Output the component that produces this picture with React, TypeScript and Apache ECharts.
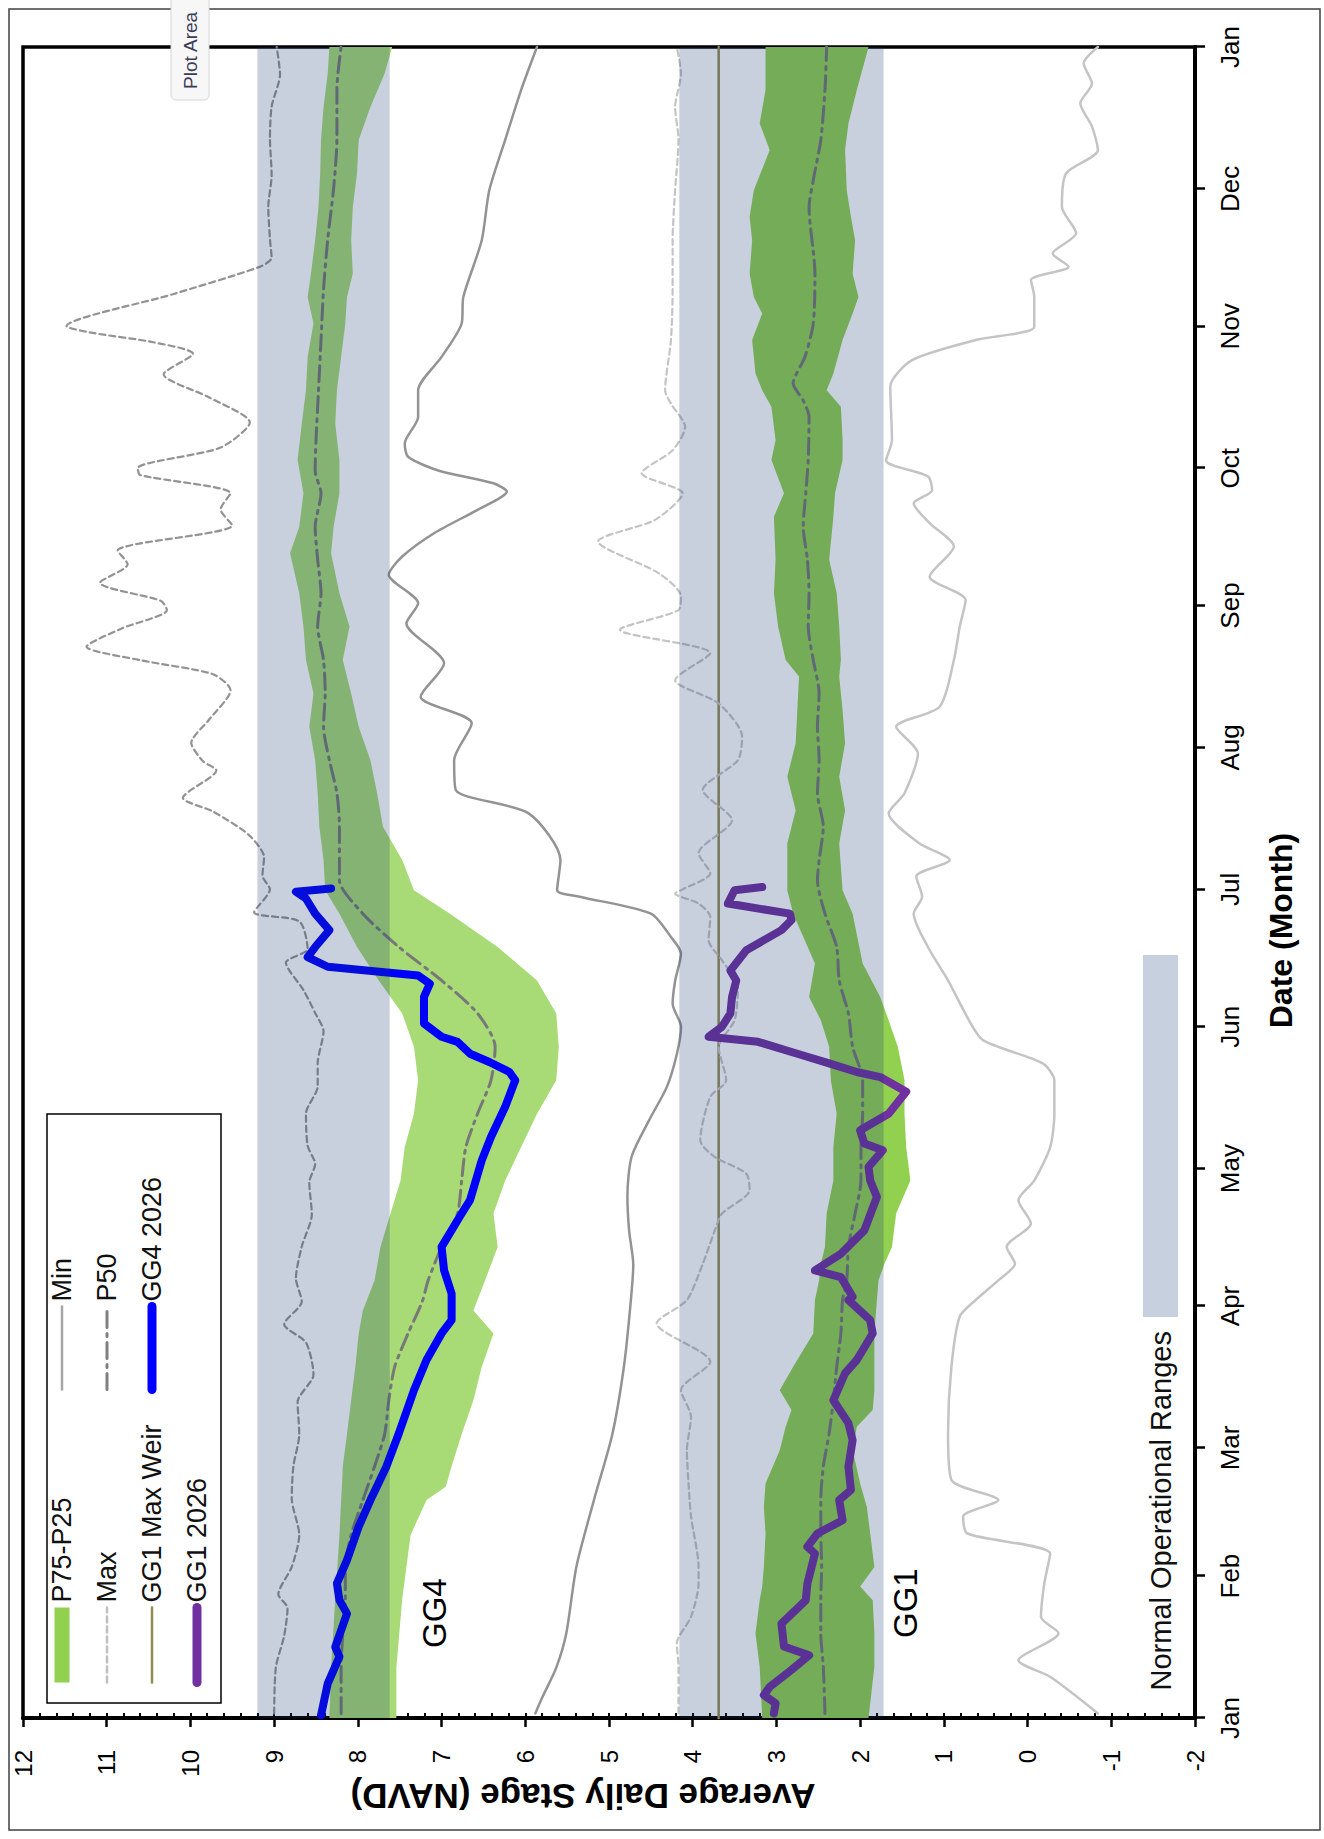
import React, { useEffect, useRef } from 'react';
import * as echarts from 'echarts';

// ---------- axis data ----------
const monthStarts = [0, 31, 59, 90, 120, 151, 181, 212, 243, 273, 304, 334, 365];
const monthLabels = ['Jan', 'Feb', 'Mar', 'Apr', 'May', 'Jun', 'Jul', 'Aug', 'Sep', 'Oct', 'Nov', 'Dec', 'Jan'];
const stageMin = -2;
const stageMax = 12;

// ---------- operational ranges & weir ----------
const gg4OperationalRange = [7.62, 9.2];
const gg1OperationalRange = [1.72, 4.16];
const gg1MaxWeir = 3.69;

// ---------- GG4 statistics: [day, P25, P75] ----------
const gg4Band: [number, number, number][] = [
  [0, 7.54, 8.34], [11, 7.54, 8.32], [26, 7.47, 8.27], [40, 7.37, 8.22], [47.6, 7.18, 8.2], [50.5, 6.95, 8.19],
  [55, 6.88, 8.18], [62, 6.76, 8.13], [69.4, 6.62, 8.08], [76.7, 6.52, 8.03], [84, 6.38, 7.99], [89, 6.62, 7.94],
  [95.6, 6.48, 7.8], [102.9, 6.33, 7.73], [110.2, 6.38, 7.61], [117.4, 6.24, 7.49], [124.7, 6.05, 7.44],
  [132, 5.86, 7.33], [139.3, 5.63, 7.28], [146.6, 5.6, 7.33], [153.9, 5.63, 7.47], [161.1, 5.86, 7.75],
  [168.4, 6.33, 8.01], [175.7, 6.9, 8.22], [180.8, 7.33, 8.39], [187.4, 7.47, 8.41], [194.7, 7.7, 8.46],
  [202, 7.77, 8.48], [209.2, 7.85, 8.51], [216.5, 7.99, 8.58], [223.8, 8.08, 8.53], [231.1, 8.18, 8.62],
  [238.4, 8.1, 8.65], [245.7, 8.22, 8.7], [254.4, 8.32, 8.81], [260.2, 8.29, 8.7], [267.5, 8.22, 8.65],
  [274.8, 8.22, 8.72], [282.7, 8.27, 8.67], [290, 8.25, 8.62], [297.3, 8.2, 8.6], [304.6, 8.15, 8.53],
  [310.4, 8.13, 8.6], [315.5, 8.06, 8.56], [322.8, 8.08, 8.51], [330.1, 8.06, 8.47], [337.4, 8.01, 8.45],
  [344.7, 7.99, 8.44], [351.9, 7.85, 8.41], [359.2, 7.68, 8.36], [365, 7.59, 8.34],
];

const gg4P50: [number, number][] = [
  [1, 8.2], [11, 8.2], [18.5, 8.18], [26, 8.15], [33, 8.15], [40, 8.08], [47.6, 7.94], [55, 7.8], [62, 7.68],
  [69.4, 7.63], [76.7, 7.56], [84, 7.4], [91, 7.23], [95.6, 7.16], [102.9, 7.0], [110.2, 6.81], [117.4, 6.76],
  [124.7, 6.71], [132, 6.57], [139.3, 6.41], [146.6, 6.36], [153.9, 6.57], [161.1, 7.0], [168.4, 7.51],
  [175.7, 7.94], [183, 8.22], [187.4, 8.22], [194.7, 8.22], [202, 8.25], [209.2, 8.34], [216.5, 8.41],
  [223.8, 8.39], [231.1, 8.41], [238.4, 8.48], [245.7, 8.44], [253, 8.48], [260.2, 8.51], [267.5, 8.44],
  [272.5, 8.51], [279, 8.5], [290, 8.47], [301, 8.44], [312, 8.41], [323, 8.36], [334, 8.29], [345, 8.25],
  [356, 8.25], [365, 8.2],
];

const gg4Max: [number, number][] = [
  [1, 9.0], [11, 8.98], [18, 8.88], [24, 8.84], [27, 8.95], [33, 8.79], [40, 8.7], [48, 8.79], [55, 8.77],
  [62, 8.7], [69, 8.72], [75, 8.53], [82, 8.62], [86, 8.88], [91, 8.67], [96, 8.74], [103, 8.67], [110, 8.55],
  [117, 8.58], [121, 8.51], [125, 8.6], [132, 8.62], [138, 8.48], [143, 8.48], [150, 8.41], [154, 8.51],
  [159, 8.65], [165, 8.86], [168, 8.6], [174, 8.7], [176, 9.24], [181, 9.05], [184, 9.14], [188, 9.12],
  [193, 9.31], [198, 9.73], [201, 10.09], [207, 9.69], [209, 9.85], [213, 9.99], [218, 9.78], [224.5, 9.52],
  [228, 9.73], [231, 10.58], [234, 11.24], [238, 10.82], [242, 10.28], [244, 10.35], [248, 11.08],
  [252, 10.75], [255, 10.87], [260.5, 9.5], [264, 9.64], [267.5, 9.52], [271.5, 10.6], [273, 10.63],
  [277.5, 9.64], [283, 9.29], [288.5, 9.78], [293.5, 10.32], [298, 9.97], [300.5, 10.44], [302.5, 11.15],
  [304, 11.48], [311, 10.21], [317, 9.17], [319, 9.03], [323, 9.05], [330, 9.07], [337, 9.03], [345, 9.05],
  [352, 9.03], [359, 8.93], [365, 8.97],
];

const gg4Min: [number, number][] = [
  [1, 5.88], [4, 5.81], [11, 5.63], [18.5, 5.51], [33, 5.39], [47.6, 5.18], [62, 4.96], [77, 4.82], [91, 4.74],
  [99, 4.71], [106.5, 4.76], [114, 4.78], [122.6, 4.73], [130.6, 4.52], [137.8, 4.31], [145, 4.19], [151, 4.14],
  [156, 4.24], [161, 4.21], [167, 4.14], [170.6, 4.26], [175.7, 4.5], [179.4, 5.35], [180.8, 5.62],
  [187.4, 5.58], [197.6, 5.96], [202.7, 6.83], [209.2, 6.85], [217.3, 6.64], [223.1, 7.25], [230.4, 6.97],
  [239.1, 7.42], [243.5, 7.28], [249.7, 7.63], [253.7, 7.47], [258.8, 7.09], [263.9, 6.57], [267.9, 6.22],
  [269.7, 6.38], [272.5, 7.04], [275.5, 7.4], [278.4, 7.44], [284.2, 7.28], [290, 7.28], [297.3, 7.0],
  [304.6, 6.76], [310.4, 6.74], [322.8, 6.52], [333.7, 6.43], [344.7, 6.24], [355.6, 6.05], [365, 5.86],
];

const gg4Stage2026: [number, number][] = [
  [0.6, 8.44], [7.5, 8.36], [13.4, 8.22], [15.5, 8.27], [22.8, 8.13], [25.7, 8.22], [29.4, 8.25], [34.5, 8.13],
  [41.8, 7.99], [47.6, 7.85], [54.9, 7.66], [62.2, 7.51], [71.6, 7.33], [78.2, 7.18], [84, 7.0], [86.9, 6.88],
  [92.7, 6.88], [97.8, 6.97], [102.9, 7.0], [110.2, 6.76], [113.1, 6.66], [121.8, 6.52], [126.9, 6.41],
  [133.5, 6.24], [139.3, 6.12], [141.1, 6.19], [143.3, 6.43], [145.1, 6.66], [147.7, 6.81], [148.8, 7.0],
  [151.7, 7.21], [157.5, 7.21], [160.4, 7.14], [162.2, 7.28], [164.1, 8.36], [166.2, 8.6], [168.4, 8.51],
  [172.1, 8.34], [175.7, 8.51], [179, 8.62], [180.5, 8.74], [181.2, 8.32],
];

// ---------- GG1 statistics ----------
const gg1Band: [number, number, number][] = [
  [0, 1.9, 3.17], [11.2, 1.83, 3.2], [18.5, 1.83, 3.25], [25.7, 1.85, 3.2], [28.7, 2.0, 3.17], [33, 1.83, 3.15],
  [40.3, 1.88, 3.13], [46.1, 1.92, 3.15], [51.2, 2.0, 3.13], [58.5, 2.09, 2.96], [63.6, 2.04, 2.89],
  [67.3, 1.85, 2.82], [71.6, 1.83, 2.96], [76.7, 1.83, 2.8], [84, 1.83, 2.56], [91.3, 1.8, 2.54],
  [95.6, 1.78, 2.49], [99.2, 1.71, 2.47], [102.9, 1.62, 2.42], [110.2, 1.57, 2.4], [117.4, 1.4, 2.32],
  [124.7, 1.45, 2.32], [132, 1.47, 2.28], [139.3, 1.47, 2.35], [146.6, 1.55, 2.37], [152.4, 1.66, 2.47],
  [157.5, 1.76, 2.61], [164.8, 1.97, 2.54], [175.7, 2.09, 2.8], [180.8, 2.21, 2.87], [191, 2.25, 2.87],
  [198.3, 2.18, 2.77], [205.6, 2.25, 2.87], [212.9, 2.18, 2.77], [220.2, 2.21, 2.75], [227.5, 2.25, 2.73],
  [231.1, 2.23, 2.89], [238.4, 2.25, 2.98], [245.7, 2.28, 3.03], [253, 2.37, 3.01], [262.4, 2.32, 3.03],
  [267.5, 2.3, 2.91], [274.8, 2.21, 3.06], [279.1, 2.21, 3.01], [286.4, 2.23, 3.06], [290, 2.4, 3.17],
  [293.7, 2.32, 3.25], [301, 2.21, 3.29], [306.8, 2.09, 3.17], [310.4, 2.02, 3.27], [315.5, 2.09, 3.32],
  [322.8, 2.06, 3.29], [327.9, 2.11, 3.32], [333.7, 2.16, 3.27], [342.5, 2.18, 3.08], [348.3, 2.14, 3.2],
  [355.6, 2.04, 3.13], [365, 1.9, 3.13],
];

const gg1P50: [number, number][] = [
  [1, 2.42], [11.2, 2.44], [18.5, 2.47], [25.7, 2.47], [33, 2.46], [40.3, 2.47], [47.6, 2.47], [54.9, 2.44],
  [62.2, 2.37], [69.4, 2.32], [76.7, 2.28], [84, 2.23], [91.3, 2.21], [95.6, 2.16], [102.9, 2.14], [110.2, 2.06],
  [117.4, 1.99], [124.7, 1.99], [132, 1.97], [139.3, 1.97], [146.6, 2.09], [153.9, 2.14], [161.1, 2.25],
  [168.4, 2.28], [175.7, 2.42], [183, 2.51], [187.4, 2.49], [194.7, 2.44], [202, 2.51], [209.2, 2.49],
  [216.5, 2.51], [223.8, 2.49], [231.1, 2.56], [238.4, 2.62], [245.7, 2.61], [253, 2.63], [260.2, 2.68],
  [267.5, 2.65], [274.8, 2.62], [284.2, 2.61], [287.8, 2.68], [291.5, 2.8], [297.3, 2.66], [304.6, 2.56],
  [315.5, 2.54], [330, 2.61], [335.9, 2.56], [344.7, 2.47], [355.6, 2.42], [365, 2.4],
];

const gg1Max: [number, number][] = [
  [1, 4.17], [11.2, 4.17], [16.3, 4.19], [22.1, 4.02], [29.4, 3.93], [33, 3.93], [44, 4.02], [51.2, 4.05],
  [58.5, 4.07], [65.8, 4.02], [71.6, 4.14], [77.8, 3.79], [86.2, 4.43], [91.3, 4.07], [99.2, 3.88],
  [107.3, 3.72], [110.2, 3.65], [115.3, 3.32], [118.9, 3.36], [122.6, 3.74], [126.2, 3.91], [135.7, 3.79],
  [139.3, 3.6], [146.6, 3.69], [152.4, 3.5], [159.7, 3.46], [165.5, 3.65], [169.9, 3.81], [175, 3.79],
  [177.9, 3.93], [180.1, 4.21], [181, 4.12], [184.5, 3.79], [188.9, 3.93], [196.1, 3.53], [202.7, 3.88],
  [209.2, 3.46], [214.4, 3.41], [221.6, 3.69], [226.7, 4.21], [232.6, 3.79], [237.7, 4.87], [242, 4.17],
  [245, 4.14], [250, 4.4], [257, 5.13], [261.7, 4.45], [267.5, 4.12], [271.9, 4.61], [276.9, 4.24],
  [282, 4.09], [287.1, 4.26], [290, 4.33], [300.9, 4.26], [311.9, 4.24], [322.8, 4.24], [333.7, 4.21],
  [344.7, 4.17], [351.9, 4.21], [359.2, 4.14], [365, 4.19],
];

const gg1Min: [number, number][] = [
  [1, -0.84], [9, -0.27], [12.6, 0.11], [18.5, -0.37], [22.1, -0.16], [29.4, -0.2], [35.9, -0.27], [40.3, 0.72],
  [44, 0.77], [47.6, 0.35], [52, 0.91], [62.2, 0.95], [76.7, 0.91], [87.7, 0.81], [91.3, 0.62], [95.6, 0.35],
  [99.2, 0.15], [102.9, 0.25], [108, -0.04], [113.1, 0.11], [117.4, -0.08], [124.7, -0.27], [132, -0.32],
  [139.3, -0.32], [143, -0.18], [148, 0.53], [152.4, 0.7], [161.1, 0.95], [168.4, 1.19], [175.7, 1.36],
  [179.4, 1.26], [183.8, 1.33], [187.4, 0.93], [191, 1.29], [197.6, 1.66], [202, 1.47], [210.7, 1.31],
  [216.5, 1.57], [220.9, 1.05], [231.1, 0.88], [238.4, 0.81], [244.2, 0.74], [249.3, 1.17], [255.9, 0.88],
  [261, 1.17], [265.3, 1.36], [268.2, 1.14], [271.2, 1.19], [274.7, 1.69], [279.1, 1.62], [290.8, 1.64],
  [296.6, 1.38], [301, 0.62], [303.9, -0.08], [310.4, -0.08], [314.1, -0.04], [317, -0.49], [319.9, -0.3],
  [324.3, -0.58], [330.1, -0.41], [337.4, -0.46], [342.5, -0.84], [347.6, -0.77], [352.7, -0.63],
  [357, -0.77], [361.4, -0.67], [365, -0.84],
];

const gg1Stage2026: [number, number][] = [
  [1, 3.03], [3.2, 3.01], [5, 3.15], [6.8, 3.08], [10.5, 2.82], [13.7, 2.61], [15.6, 2.91], [20.6, 2.94],
  [25.7, 2.65], [29.4, 2.63], [35.9, 2.54], [37.4, 2.63], [40.3, 2.51], [43.2, 2.21], [47.6, 2.25],
  [49.8, 2.11], [54.9, 2.14], [60.7, 2.09], [64.4, 2.14], [69.4, 2.32], [75.3, 2.18], [78.2, 2.04], [84, 1.85],
  [86.9, 1.88], [91.3, 2.14], [92, 2.09], [96.3, 2.23], [97.8, 2.54], [101.4, 2.23], [106.5, 1.95],
  [113.8, 1.8], [117.4, 1.88], [120.4, 1.9], [124, 1.73], [125.5, 1.95], [128.4, 2.0], [132, 1.66],
  [136.8, 1.45], [140, 1.76], [141.1, 2.04], [143, 2.37], [145.1, 2.75], [147.7, 3.22], [148.8, 3.81],
  [151, 3.65], [153.9, 3.55], [157.5, 3.53], [161.1, 3.48], [163.3, 3.55], [167.7, 3.36], [172.1, 2.94],
  [174.3, 2.82], [175.7, 2.84], [177.9, 3.58], [180.8, 3.5], [181.5, 3.17],
];

// ---------- styling ----------
const FONT = "'Liberation Sans', Arial, Helvetica, sans-serif";
const W = 1839;
const H = 1324;
const C_BAND_GG4 = '#A8DA76';
const C_BAND_GG1 = '#92D050';
const C_RANGE = 'rgba(20, 55, 112, 0.235)';
const C_RANGE_LEGEND = '#C6D0DE';
const C_MAX_GG4 = '#939393';
const C_MAX_GG1 = '#C4C4C4';
const C_MIN_GG4 = '#939393';
const C_MIN_GG1 = '#C4C4C4';
const C_P50 = '#787878';
const C_WEIR = '#948A54';
const C_GG4 = '#0000FF';
const C_GG1 = '#7030A0';
const DASH_MAX = [6, 4];
const DASH_P50 = [16, 6, 3, 6];

// band between P25 and P75, drawn as one polygon through the axes' scales
function bandSeries(name: string, band: [number, number, number][], color: string, z: number) {
  return {
    name,
    type: 'custom',
    data: band,
    encode: { x: 0, y: [1, 2] },
    itemStyle: { color },
    silent: true,
    z,
    renderItem: (params: any, api: any) => {
      if (params.dataIndex !== 0) return null;
      const upper = band.map((d) => api.coord([d[0], d[2]]));
      const lower = band.map((d) => api.coord([d[0], d[1]])).reverse();
      return {
        type: 'polygon',
        shape: { points: upper.concat(lower) },
        style: { fill: color, stroke: null },
      };
    },
  };
}

// translucent operational range, spanning the whole year
function rangeSeries(range: number[]) {
  const span: [number, number, number][] = [[monthStarts[0], range[0], range[1]]];
  return {
    name: 'Normal Operational Ranges',
    type: 'custom',
    data: span,
    encode: { x: 0, y: [1, 2] },
    itemStyle: { color: C_RANGE_LEGEND },
    silent: true,
    z: 6,
    renderItem: (params: any, api: any) => {
      const p0 = api.coord([monthStarts[0], range[1]]);
      const p1 = api.coord([monthStarts[monthStarts.length - 1], range[0]]);
      return {
        type: 'rect',
        shape: { x: p0[0], y: p0[1], width: p1[0] - p0[0], height: p1[1] - p0[1] },
        style: { fill: C_RANGE, stroke: null },
      };
    },
  };
}

function lineSeries(name: string, data: [number, number][], color: string, width: number, type: any, z: number, smooth: number) {
  return {
    name,
    type: 'line',
    data,
    symbol: 'none',
    smooth,
    itemStyle: { color },
    lineStyle: { color, width, type, cap: 'round', join: 'round' },
    silent: true,
    z,
  };
}

function buildOption() {
  const series: any[] = [
    bandSeries('P75-P25', gg4Band, C_BAND_GG4, 1),
    bandSeries('P75-P25', gg1Band, C_BAND_GG1, 1),
    lineSeries('GG1 Max Weir', [[monthStarts[0], gg1MaxWeir], [monthStarts[12], gg1MaxWeir]], C_WEIR, 2.5, 'solid', 2, 0),
    lineSeries('Min', gg4Min, C_MIN_GG4, 2.5, 'solid', 2, 0.25),
    lineSeries('Min', gg1Min, C_MIN_GG1, 2.5, 'solid', 2, 0.25),
    lineSeries('Max', gg1Max, C_MAX_GG1, 2.2, DASH_MAX, 2, 0.25),
    lineSeries('Max', gg4Max, C_MAX_GG4, 2.2, DASH_MAX, 2, 0.25),
    lineSeries('P50', gg4P50, C_P50, 3, DASH_P50, 3, 0.25),
    lineSeries('P50', gg1P50, C_P50, 3, DASH_P50, 3, 0.25),
    lineSeries('GG4 2026', gg4Stage2026, C_GG4, 8, 'solid', 4, 0),
    lineSeries('GG1 2026', gg1Stage2026, C_GG1, 8, 'solid', 4, 0),
    rangeSeries(gg4OperationalRange),
    rangeSeries(gg1OperationalRange),
  ];

  const legendText = { fontSize: 27, lineHeight: 30, color: '#111', fontFamily: FONT };
  const hideDot = { opacity: 0 };

  return {
    animation: false,
    backgroundColor: '#ffffff',
    textStyle: { fontFamily: FONT },
    grid: {
      left: 121,
      right: 47,
      top: 23,
      bottom: 129,
      show: true,
      borderColor: '#000',
      borderWidth: 3.5,
      containLabel: false,
      outerBoundsMode: 'none',
    },
    xAxis: {
      type: 'value',
      min: monthStarts[0],
      max: monthStarts[monthStarts.length - 1],
      position: 'bottom',
      axisLine: { show: true, onZero: false, lineStyle: { color: '#000', width: 4 } },
      axisTick: { show: true, length: 10, customValues: monthStarts, lineStyle: { color: '#000', width: 2.5 } },
      axisLabel: {
        customValues: monthStarts,
        formatter: (v: number) => monthLabels[monthStarts.indexOf(v)] ?? '',
        fontSize: 26,
        color: '#000',
        margin: 22,
        fontFamily: FONT,
      },
      splitLine: { show: false },
      name: 'Date (Month)',
      nameLocation: 'middle',
      nameGap: 70,
      nameMoveOverlap: false,
      nameTextStyle: { fontSize: 32, fontWeight: 'bold', color: '#000', fontFamily: FONT, padding: [0, 96, 0, 0] },
    },
    yAxis: [
      {
        type: 'value',
        min: stageMin,
        max: stageMax,
        interval: 1,
        position: 'left',
        axisLine: { show: true, onZero: false, lineStyle: { color: '#000', width: 4 } },
        axisTick: { show: true, length: 9, lineStyle: { color: '#000', width: 2.5 } },
        axisLabel: { fontSize: 24, color: '#000', margin: 32, fontFamily: FONT },
        splitLine: { show: false },
        name: 'Average Daily Stage (NAVD)',
        nameLocation: 'middle',
        nameGap: 61,
        nameRotate: 90,
        nameMoveOverlap: false,
        nameTextStyle: { fontSize: 35, fontWeight: 'bold', color: '#000', fontFamily: FONT, padding: [0, 0, 0, 52] },
      },
      {
        type: 'value',
        min: stageMin,
        max: stageMax,
        interval: 1,
        position: 'left',
        offset: 0,
        axisLine: { show: false, onZero: false },
        axisLabel: { show: false },
        axisTick: { show: true, inside: true, length: 5, lineStyle: { color: '#000', width: 2 } },
        minorTick: { show: true, splitNumber: 5, length: 5, lineStyle: { color: '#000', width: 2 } },
        splitLine: { show: false },
        minorSplitLine: { show: false },
      },
    ],
    legend: [
      {
        orient: 'vertical',
        left: 152,
        top: 47,
        padding: 0,
        itemWidth: 75,
        itemHeight: 15,
        itemGap: 15,
        selectedMode: false,
        z: 10,
        textStyle: legendText,
        data: [
          { name: 'P75-P25', icon: 'rect', itemStyle: { color: C_BAND_GG1 } },
          { name: 'Max', itemStyle: hideDot, lineStyle: { color: '#C0C0C0', width: 2.5, type: DASH_MAX } },
          { name: 'GG1 Max Weir', itemStyle: hideDot, lineStyle: { color: C_WEIR, width: 2.5 } },
          { name: 'GG1 2026', itemStyle: hideDot, lineStyle: { color: C_GG1, width: 9, cap: 'round' } },
        ],
      },
      {
        orient: 'vertical',
        left: 445,
        top: 47,
        padding: 0,
        itemWidth: 83,
        itemHeight: 15,
        itemGap: 15,
        selectedMode: false,
        z: 10,
        textStyle: legendText,
        data: [
          { name: 'Min', itemStyle: hideDot, lineStyle: { color: '#A6A6A6', width: 2.5 } },
          { name: 'P50', itemStyle: hideDot, lineStyle: { color: '#808080', width: 3, type: DASH_P50 } },
          { name: 'GG4 2026', itemStyle: hideDot, lineStyle: { color: C_GG4, width: 9, cap: 'round' } },
        ],
      },
      {
        orient: 'horizontal',
        right: W - 884,
        top: 1143,
        padding: 0,
        align: 'right',
        itemWidth: 362,
        itemHeight: 35,
        selectedMode: false,
        z: 10,
        textStyle: { fontSize: 29, color: '#111', fontFamily: FONT, padding: [0, 9, 0, 0] },
        data: [{ name: 'Normal Operational Ranges', icon: 'rect', itemStyle: { color: C_RANGE_LEGEND, opacity: 1 } }],
      },
    ],
    graphic: [
      {
        type: 'rect',
        shape: { x: 9, y: 9, width: 1821, height: 1311 },
        style: { fill: 'none', stroke: '#404040', lineWidth: 1.5 },
        silent: true,
        z: 20,
      },
      {
        type: 'rect',
        shape: { x: 136, y: 47, width: 589, height: 174 },
        style: { fill: '#ffffff', stroke: '#000', lineWidth: 1.5 },
        silent: true,
        z: 9,
      },
      {
        type: 'text',
        x: 191,
        y: 434,
        style: { text: 'GG4', fontSize: 33, fontFamily: FONT, fill: '#000', align: 'left', verticalAlign: 'middle' },
        silent: true,
        z: 10,
      },
      {
        type: 'text',
        x: 201,
        y: 905,
        style: { text: 'GG1', fontSize: 33, fontFamily: FONT, fill: '#000', align: 'left', verticalAlign: 'middle' },
        silent: true,
        z: 10,
      },
      {
        type: 'rect',
        shape: { x: 1739, y: 171, width: 130, height: 38, r: 5 },
        style: { fill: '#f7f7f7', stroke: '#d6d6d6', lineWidth: 1 },
        silent: true,
        z: 21,
      },
      {
        type: 'text',
        x: 1750,
        y: 190,
        style: { text: 'Plot Area', fontSize: 19, fontFamily: FONT, fill: '#3c3c5a', align: 'left', verticalAlign: 'middle' },
        silent: true,
        z: 22,
      },
    ],
    series,
  };
}

export default function App() {
  const ref = useRef<HTMLDivElement>(null);
  useEffect(() => {
    if (!ref.current) return;
    const chart = echarts.init(ref.current, null, { renderer: 'svg', width: W, height: H });
    chart.setOption(buildOption() as any);
    return () => chart.dispose();
  }, []);
  return (
    <div style={{ position: 'absolute', left: 0, top: 0, width: 1324, height: 1839, overflow: 'hidden', background: '#fff' }}>
      <div
        ref={ref}
        style={{
          position: 'absolute',
          left: 0,
          top: 0,
          width: W,
          height: H,
          transformOrigin: '0 0',
          transform: `translateY(${W}px) rotate(-90deg)`,
        }}
      />
    </div>
  );
}
